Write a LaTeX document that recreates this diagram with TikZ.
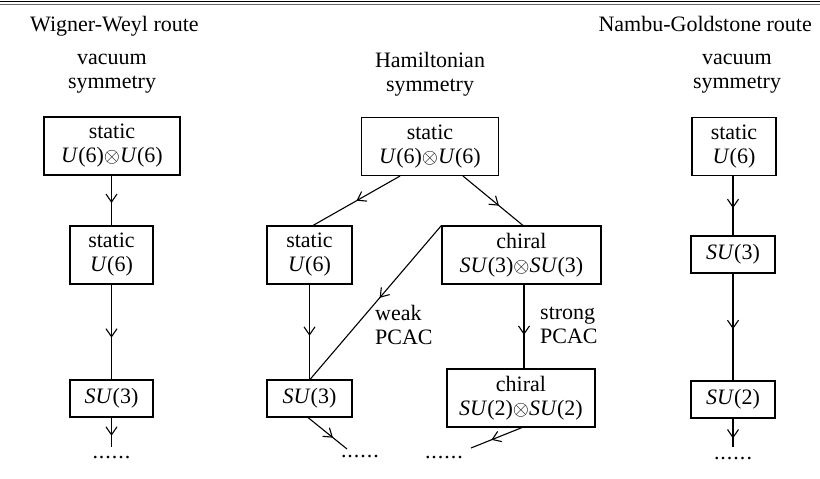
\documentclass[tikz,border=0pt]{standalone}
\usepackage{fontspec}
\setmainfont{Liberation Serif}
\usetikzlibrary{arrows.meta,decorations.markings}
\newcommand\myot{$\otimes$}
\newcommand\mydots{.\kern1pt.\kern1pt.\kern1pt.\kern1pt.\kern1pt.}
\begin{document}
\begin{tikzpicture}[x=1pt,y=-1pt,
  txt/.style={font=\fontsize{22}{24}\selectfont, align=center, inner sep=0pt},
  box/.style={txt, draw, line width=1.1pt, minimum width=#1},
  twoline/.style={minimum height=58pt},
  oneline/.style={minimum height=37pt},
  conn/.style={line width=1.1pt, postaction={decorate},
    decoration={markings, mark=at position #1 with {\arrow{Straight Barb[length=8pt,width=11pt,line width=1.1pt]}}}},
  conn/.default=0.55
]
\useasboundingbox (0,0) rectangle (820,479);
\draw[line width=1.6pt] (0,1.5) -- (820,1.5);
\draw[line width=0.5pt, black!60] (0,4.5) -- (820,4.5);

% titles
\node[txt, anchor=base west] (t1) at (30,31) {Wigner-Weyl route};
\node[txt, anchor=base east] (t2) at (812,31) {Nambu-Goldstone route};
\node[txt] (h1) at (112,74) {vacuum\\symmetry};
\node[txt] (h2) at (430,74) {Hamiltonian\\symmetry};
\node[txt] (h3) at (737,74) {vacuum\\symmetry};

% left column
\node[box=136pt, twoline] (L0) at (112,146) {static\\\textit{U}(6)\myot\textit{U}(6)};
\node[box=83pt, twoline] (L1) at (111.5,255) {static\\\textit{U}(6)};
\node[box=83pt, oneline] (L2) at (111.5,398.5) {\textit{SU}(3)};
\node[txt] (Ld) at (111.5,458) {\mydots};
\coordinate (Le) at (111.5,447);

% middle
\node[box=137pt, twoline] (M0) at (430,146.5) {static\\\textit{U}(6)\myot\textit{U}(6)};
\node[box=85pt, twoline] (M1) at (309.5,255) {static\\\textit{U}(6)};
\node[box=159pt, twoline] (M2) at (521.5,255) {chiral\\\textit{SU}(3)\myot\textit{SU}(3)};
\node[box=85pt, oneline] (M3) at (309.5,398.5) {\textit{SU}(3)};
\node[box=148pt, twoline] (M4) at (521,398) {chiral\\\textit{SU}(2)\myot\textit{SU}(2)};
\node[txt] (Md1) at (360,457) {\mydots};
\node[txt] (Md2) at (444,458) {\mydots};
\coordinate (Me1) at (347,449);
\coordinate (Me2) at (471,448);
\node[txt, anchor=west, align=left] (weak) at (375,325) {weak\\PCAC};
\node[txt, anchor=west, align=left] (strong) at (540,325) {strong\\PCAC};

% right column
\node[box=84pt, twoline] (R0) at (734,146.5) {static\\\textit{U}(6)};
\node[box=84pt, oneline] (R1) at (733,254.5) {\textit{SU}(3)};
\node[box=84pt, oneline] (R2) at (733,399.5) {\textit{SU}(2)};
\node[txt] (Rd) at (733,459) {\mydots};
\coordinate (Re) at (733,447);

% connectors
\draw[conn=0.55] ([xshift=-0.5pt]L0.south) -- (L1.north);
\draw[conn=0.56] (L1.south) -- (L2.north);
\draw[conn=0.62] (L2.south) -- (Le);

\draw[conn=0.5] ([xshift=-30pt]M0.south) -- ([xshift=3.5pt]M1.north);
\draw[conn=0.6] ([xshift=33pt]M0.south) -- ([xshift=1.5pt]M2.north);
\draw[conn=0.54] (M1.south) -- (M3.north);
\draw[conn=0.47] (M2.north west) -- ([xshift=0.5pt]M3.north);
\draw[conn=0.6] ([xshift=2.5pt]M2.south) -- ([xshift=3pt]M4.north);
\draw[conn=0.64] ([xshift=-1.5pt]M3.south) -- (Me1);
\draw[conn=0.6] ([xshift=1pt]M4.south) -- (Me2);

\draw[conn=0.54] ([xshift=-1pt]R0.south) -- (R1.north);
\draw[conn=0.52] (R1.south) -- (R2.north);
\draw[conn=0.7] (R2.south) -- (Re);
\end{tikzpicture}
\end{document}
